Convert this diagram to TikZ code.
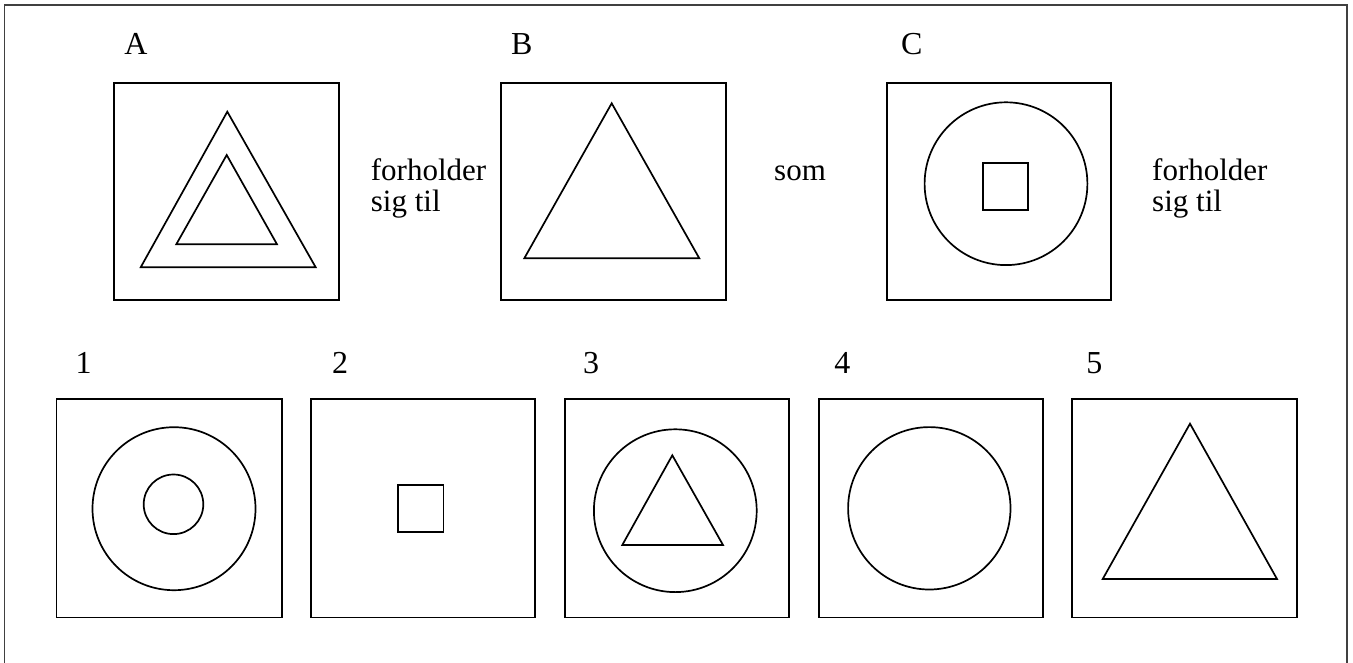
\documentclass[tikz,border=0pt]{standalone}
\usepackage{fontspec}
\setmainfont{Liberation Serif}
\begin{document}
\begin{tikzpicture}[x=1pt,y=-1pt,
  fig/.style={line width=1.7pt, line join=miter},
  frame/.style={line width=1.8pt, draw=black!75},
  lbl/.style={font=\fontsize{32}{34}\selectfont, inner sep=0pt, anchor=base},
  txt/.style={font=\fontsize{31}{34}\selectfont, inner sep=0pt, anchor=base west}]
\useasboundingbox (0,0) rectangle (1353,662);
\clip (0,0) rectangle (1353,662);
% outer frame (bottom edge outside the picture)
\draw[frame] (4.5,5) rectangle (1347.3,675);

% top row labels
\node[lbl] (lA) at (136,54.5) {A};
\node[lbl] (lB) at (521.7,54.5) {B};
\node[lbl] (lC) at (911.7,54.5) {C};

% box A
\draw[fig] (114.3,82.7) rectangle (339,300);
\draw[fig] (227.3,111.7) -- (140.7,267.3) -- (315.7,267.3) -- cycle;
\draw[fig] (226.7,155) -- (176.3,244.3) -- (277,244.3) -- cycle;

\node[txt] (t1a) at (370.7,180) {forholder};
\node[txt] (t1b) at (370.7,211.5) {sig til};

% box B
\draw[fig] (500.7,82.7) rectangle (725.7,300);
\draw[fig] (611.7,103.3) -- (524.3,258.3) -- (699.3,258.3) -- cycle;

\node[txt] (t2) at (774,180) {som};

% box C
\draw[fig] (886.7,82.7) rectangle (1110.7,300);
\draw[fig] (1006,183.7) circle (81.4);
\draw[fig] (982.7,162.7) rectangle (1028,210.3);

\node[txt] (t3a) at (1152,180) {forholder};
\node[txt] (t3b) at (1152,211.5) {sig til};

% bottom row labels
\node[lbl] (l1) at (83.6,373.3) {1};
\node[lbl] (l2) at (340,373.3) {2};
\node[lbl] (l3) at (591,373.3) {3};
\node[lbl] (l4) at (842.3,373.3) {4};
\node[lbl] (l5) at (1094.3,373.3) {5};

% box 1
\draw[fig] (56.5,399.3) rectangle (281.8,617.5);
\draw[fig] (174,508.7) circle (81.5);
\draw[fig] (173.5,504.3) circle (29.8);

% box 2
\draw[fig] (310.7,399.3) rectangle (535,617.5);
\draw[fig] (398.2,485) rectangle (443.6,532.3);

% box 3
\draw[fig] (564.7,399.3) rectangle (789,617.5);
\draw[fig] (675.3,510.7) circle (81.4);
\draw[fig] (672.3,455.3) -- (622.3,545) -- (723,545) -- cycle;

% box 4
\draw[fig] (818.7,399.3) rectangle (1043.3,617.5);
\draw[fig] (929.3,508.3) circle (81.2);

% box 5
\draw[fig] (1072,399.3) rectangle (1296.7,617.5);
\draw[fig] (1190,423.7) -- (1102.7,579) -- (1277,579) -- cycle;
\end{tikzpicture}
\end{document}
